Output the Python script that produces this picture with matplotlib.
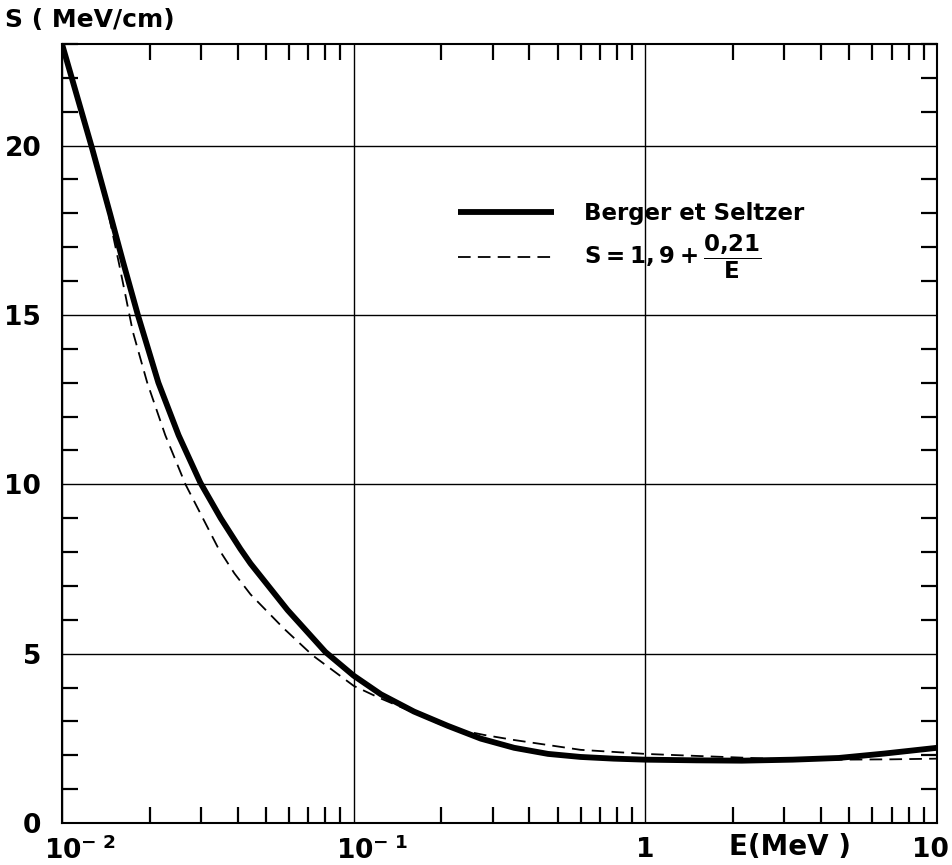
import matplotlib
matplotlib.use("Agg")
import matplotlib.pyplot as plt
import matplotlib.transforms as mtransforms
from matplotlib.ticker import FixedLocator, LogLocator, MultipleLocator, NullFormatter

plt.rcParams['font.family'] = ['DejaVu Sans']
plt.rcParams['font.weight'] = 'bold'
plt.rcParams['mathtext.default'] = 'regular'

# Berger et Seltzer stopping power
E_bs = [0.01, 0.0127, 0.0146, 0.0162, 0.0182, 0.0214, 0.0251, 0.0298, 0.035,
        0.0409, 0.0443, 0.0593, 0.08, 0.1, 0.124, 0.161, 0.21, 0.273, 0.355,
        0.464, 0.6, 0.78, 1.0, 1.5, 2.14, 3.2, 4.6, 6.6, 10.0]
S_bs = [23.0, 19.9, 18.0, 16.56, 15.0, 13.0, 11.45, 10.05, 9.0,
        8.09, 7.66, 6.29, 5.05, 4.35, 3.80, 3.29, 2.87, 2.49, 2.22,
        2.04, 1.95, 1.90, 1.87, 1.85, 1.84, 1.87, 1.92, 2.05, 2.22]

# approximation S = 1,9 + 0,21/E as drawn
E_fit = [0.01, 0.0127, 0.0145, 0.0157, 0.0175, 0.0196, 0.0226, 0.0265, 0.0344,
         0.039, 0.0443, 0.0575, 0.0723, 0.1, 0.122, 0.16, 0.2, 0.233, 0.28,
         0.355, 0.6, 1.0, 1.5, 2.0, 3.0, 4.6, 7.0, 10.0]
S_fit = [23.0, 20.0, 17.9, 16.5, 14.5, 13.0, 11.45, 10.0, 8.1,
         7.37, 6.75, 5.75, 4.95, 4.05, 3.70, 3.27, 2.90, 2.74, 2.60,
         2.45, 2.16, 2.04, 1.98, 1.94, 1.88, 1.87, 1.88, 1.90]

x_major = [0.01, 0.1, 1, 10]
x_labels = ['$10^{-\\ 2}$', '$10^{-\\ 1}$', '1', '10']
y_major = [0, 5, 10, 15, 20]

fig = plt.figure(figsize=(9.52, 8.65), dpi=100)
ax = fig.add_axes([62/952, 1-823/865, (937-62)/952, (823-44)/865])

ax.plot(E_bs, S_bs, color='k', lw=4.2, solid_capstyle='butt',
        solid_joinstyle='round', label='Berger et Seltzer')
ax.plot(E_fit, S_fit, color='k', lw=1.3, ls=(0, (7, 4)),
        label=r'$S = 1,9 + \dfrac{0{,}21}{E}$')

ax.set_xscale('log')
ax.set_xlim(0.01, 10)
ax.set_ylim(0, 23)

ax.xaxis.set_major_locator(FixedLocator(x_major))
ax.set_xticks(x_major, x_labels)
ax.xaxis.set_minor_locator(LogLocator(base=10, subs=range(2, 10)))
ax.xaxis.set_minor_formatter(NullFormatter())
ax.set_yticks(y_major)
ax.yaxis.set_minor_locator(MultipleLocator(1))

ax.tick_params(which='major', length=0, labelsize=19)
ax.tick_params(axis='x', which='major', pad=10)
ax.tick_params(axis='y', which='major', pad=15)
ax.tick_params(which='minor', direction='in', length=11.5, width=1.6,
               top=True, right=True, color='k')

# keep the "10" of the power labels centred on the tick
shift = mtransforms.ScaledTranslation(-18/100, 0, fig.dpi_scale_trans)
for lbl in ax.get_xticklabels()[:2]:
    lbl.set_horizontalalignment('left')
    lbl.set_transform(lbl.get_transform() + shift)
last = ax.get_xticklabels()[-1]
last.set_horizontalalignment('right')
last.set_transform(last.get_transform()
                   + mtransforms.ScaledTranslation(12/100, 0, fig.dpi_scale_trans))

ax.grid(which='major', color='k', lw=1.0)
for sp in ax.spines.values():
    sp.set_linewidth(1.5)

fig.text(5/952, 1-20/865, 'S ( MeV/cm)', fontsize=18, va='center', ha='left')
fig.text(790/952, 1-847/865, 'E(MeV )', fontsize=20, va='center', ha='center')

ax.legend(loc='upper left', bbox_to_anchor=(0.4526, 0.797), frameon=False,
          fontsize=16.5, handlelength=4.2, handletextpad=1.3, labelspacing=0.35,
          borderpad=0, borderaxespad=0)

fig.savefig('out.png', dpi=100)
